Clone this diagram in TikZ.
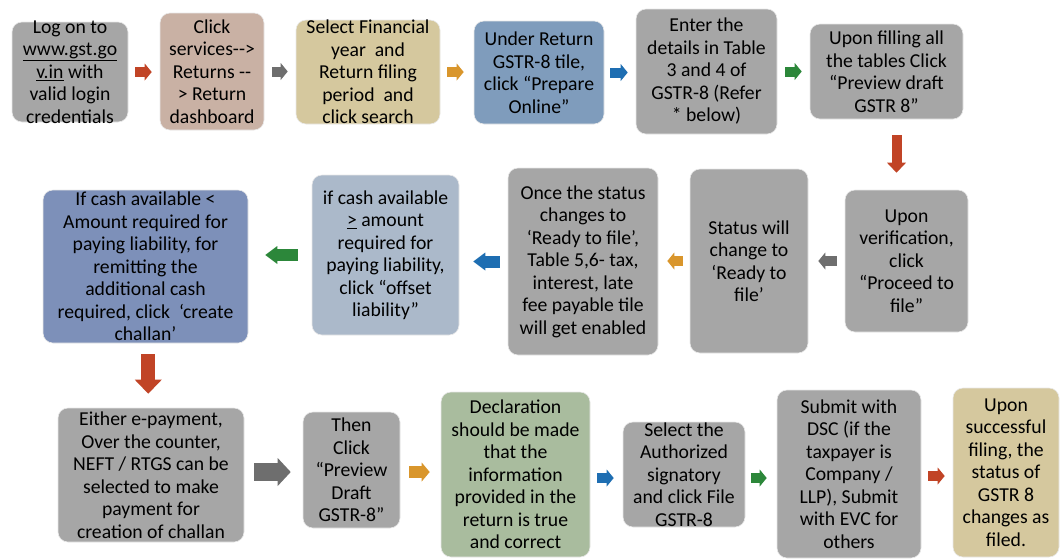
\documentclass[tikz,border=0pt]{standalone}
\usepackage{fontspec}
\setmainfont{Carlito}
\usetikzlibrary{arrows.meta,calc}
\definecolor{boxgray}{RGB}{166,166,166}
\definecolor{boxrose}{RGB}{201,177,164}
\definecolor{boxtan}{RGB}{213,200,158}
\definecolor{boxblue}{RGB}{127,156,188}
\definecolor{boxnavy}{RGB}{125,144,185}
\definecolor{boxpale}{RGB}{171,185,202}
\definecolor{boxgreen}{RGB}{169,188,158}
\definecolor{arred}{RGB}{193,68,38}
\definecolor{argray}{RGB}{110,110,110}
\definecolor{arorange}{RGB}{217,150,44}
\definecolor{arblue}{RGB}{30,110,178}
\definecolor{argreen}{RGB}{44,135,58}
\tikzset{
  stepbox/.style={rectangle, rounded corners=10pt, draw=white!75!boxgray, line width=0.6pt, inner sep=0pt, fill=boxgray},
  txt/.style={inner sep=0pt, align=center, text=black, font=\fontsize{19.7}{22.5}\selectfont},
  smallarr/.style={line width=10pt, -{Triangle[length=7pt,width=17pt,line width=0pt]}},
  midarr/.style={line width=12pt, -{Triangle[length=12pt,width=18pt,line width=0pt]}},
  bigarr/.style={line width=18pt, -{Triangle[length=13pt,width=28pt,line width=0pt]}},
  downarr/.style={line width=10pt, -{Triangle[length=10pt,width=19pt,line width=0pt]}},
  bigdownarr/.style={line width=14pt, -{Triangle[length=14pt,width=27pt,line width=0pt]}}
}
\begin{document}
\begin{tikzpicture}[x=1pt,y=-1pt]
\useasboundingbox[fill=white] (0,0) rectangle (1061,558);
% top row
\node[stepbox, minimum width=116pt, minimum height=100pt] (b1) at (70,72) {};
\node[txt] (t1) at (b1) {Log on to\\ \underline{www.gst.go}\\ \underline{v.in} with\\ valid login\\ credentials};
\node[stepbox, fill=boxrose, minimum width=104pt, minimum height=117pt] (b2) at (212,71.5) {};
\node[txt] (t2) at (b2) {Click\\ services-\kern0pt-\kern0pt>\\ Returns -\kern0pt-\\ > Return\\ dashboard};
\node[stepbox, fill=boxtan, minimum width=144pt, minimum height=104pt] (b3) at (368,72) {};
\node[txt] (t3) at (b3) {Select Financial\\ year~ and\\ Return filing\\ period~ and\\ click search};
\node[stepbox, fill=boxblue, minimum width=130pt, minimum height=103pt] (b4) at (539,72.5) {};
\node[txt] (t4) at (b4) {Under Return\\ GSTR-8 tile,\\ click “Prepare\\ Online”};
\node[stepbox, minimum width=141pt, minimum height=125pt] (b5) at (706.5,71.5) {};
\node[txt] (t5) at (b5) {Enter the\\ details in Table\\ 3 and 4 of\\ GSTR-8 (Refer\\ * below)};
\node[stepbox, minimum width=153pt, minimum height=95pt] (b6) at (886.5,71.5) {};
\node[txt] (t6) at (b6) {Upon filling all\\ the tables Click\\ “Preview draft\\ GSTR 8”};
% middle row
\node[stepbox, minimum width=123pt, minimum height=142pt] (b7) at (906.5,261) {};
\node[txt] (t7) at (b7) {Upon\\ verification,\\ click\\ “Proceed to\\ file”};
\node[stepbox, minimum width=118pt, minimum height=184pt] (b8) at (749,261) {};
\node[txt] (t8) at (b8) {Status will\\ change to\\ ‘Ready to\\ file’};
\node[stepbox, minimum width=150pt, minimum height=187pt] (b9) at (583,261.5) {};
\node[txt] (t9) at (b9) {Once the status\\ changes to\\ ‘Ready to file’,\\ Table 5,6- tax,\\ interest, late\\ fee payable tile\\ will get enabled};
\node[stepbox, fill=boxpale, minimum width=147pt, minimum height=160pt] (b10) at (385.5,255) {};
\node[txt] (t10) at (b10) {if cash available\\ \underline{>} amount\\ required for\\ paying liability,\\ click “offset\\ liability”};
\node[stepbox, fill=boxnavy, minimum width=205pt, minimum height=153pt] (b11) at (145.5,266.5) {};
\node[txt] (t11) at (b11) {If cash available <\\ Amount required for\\ paying liability, for\\ remitting the\\ additional cash\\ required, click~ ‘create\\ challan’};
% bottom row
\node[stepbox, minimum width=186pt, minimum height=134pt] (b12) at (151,475) {};
\node[txt] (t12) at (b12) {Either e-payment,\\ Over the counter,\\ NEFT / RTGS can be\\ selected to make\\ payment for\\ creation of challan};
\node[stepbox, minimum width=97pt, minimum height=116pt] (b13) at (351.5,470) {};
\node[txt] (t13) at (b13) {Then\\ Click\\ “Preview\\ Draft\\ GSTR-8”};
\node[stepbox, fill=boxgreen, minimum width=149pt, minimum height=165pt] (b14) at (515.5,474.5) {};
\node[txt] (t14) at (b14) {Declaration\\ should be made\\ that the\\ information\\ provided in the\\ return is true\\ and correct};
\node[stepbox, minimum width=122pt, minimum height=105pt] (b15) at (684,474.5) {};
\node[txt] (t15) at (b15) {Select the\\ Authorized\\ signatory\\ and click File\\ GSTR-8};
\node[stepbox, minimum width=144pt, minimum height=168pt] (b16) at (849,474) {};
\node[txt] (t16) at (b16) {Submit with\\ DSC (if the\\ taxpayer is\\ Company /\\ LLP), Submit\\ with EVC for\\ others};
\node[stepbox, fill=boxtan, minimum width=106pt, minimum height=169pt] (b17) at (1006,472.5) {};
\node[txt] (t17) at (b17) {Upon\\ successful\\ filing, the\\ status of\\ GSTR 8\\ changes as\\ filed.};
% connectors top row
\draw[smallarr, arred] ([xshift=7pt]b1.east) -- ([xshift=-8pt]b1.east -| b2.west);
\draw[smallarr, argray] ([xshift=8pt]b2.east) -- ([xshift=-8pt]b2.east -| b3.west);
\draw[smallarr, arorange] ([xshift=7pt]b3.east) -- ([xshift=-10pt]b3.east -| b4.west);
\draw[smallarr, arblue] ([xshift=6pt]b4.east) -- ([xshift=-8pt]b4.east -| b5.west);
\draw[smallarr, argreen] ([xshift=8pt]b5.east) -- ([xshift=-8pt]b5.east -| b6.west);
% down arrow
\coordinate (m1) at ($(b6.south)!0.5!(b7.north)$);
\draw[downarr, arred] ([yshift=-16pt]m1 |- b6.south) -- ([yshift=17pt]m1 |- b7.north);
% middle row (leftwards)
\draw[smallarr, argray] ([xshift=-8pt]b7.west) -- ([xshift=10pt]b7.west -| b8.east);
\draw[smallarr, arorange] ([xshift=-7pt]b8.west) -- ([xshift=9pt]b8.west -| b9.east);
\draw[midarr, arblue] ([xshift=-8pt]b9.west) -- ([xshift=14pt]b9.west -| b10.east);
\draw[midarr, argreen] ([xshift=-14pt]b10.west) -- ([xshift=17pt]b10.west -| b11.east);
% second down arrow
\coordinate (m2) at ($(b11.south)!0.5!(b12.north)$);
\draw[bigdownarr, arred] ([yshift=-11pt]m2 |- b11.south) -- ([yshift=14pt]m2 |- b12.north);
% bottom row
\coordinate (r1) at (0,472);
\draw[bigarr, argray] ([xshift=10pt]b12.east |- r1) -- ([xshift=-12pt]b13.west |- r1);
\draw[smallarr, arorange, line width=12pt, -{Triangle[length=8pt,width=19pt,line width=0pt]}] ([xshift=9pt]b13.east |- r1) -- ([xshift=-11pt]b14.west |- r1);
\coordinate (r2) at (0,478);
\draw[smallarr, arblue] ([xshift=7pt]b14.east |- r2) -- ([xshift=-9pt]b15.west |- r2);
\draw[smallarr, argreen] ([xshift=6pt]b15.east |- r2) -- ([xshift=-10pt]b16.west |- r2);
\coordinate (r3) at (0,476);
\draw[smallarr, arred] ([xshift=7pt]b16.east |- r3) -- ([xshift=-8pt]b17.west |- r3);
\end{tikzpicture}
\end{document}
